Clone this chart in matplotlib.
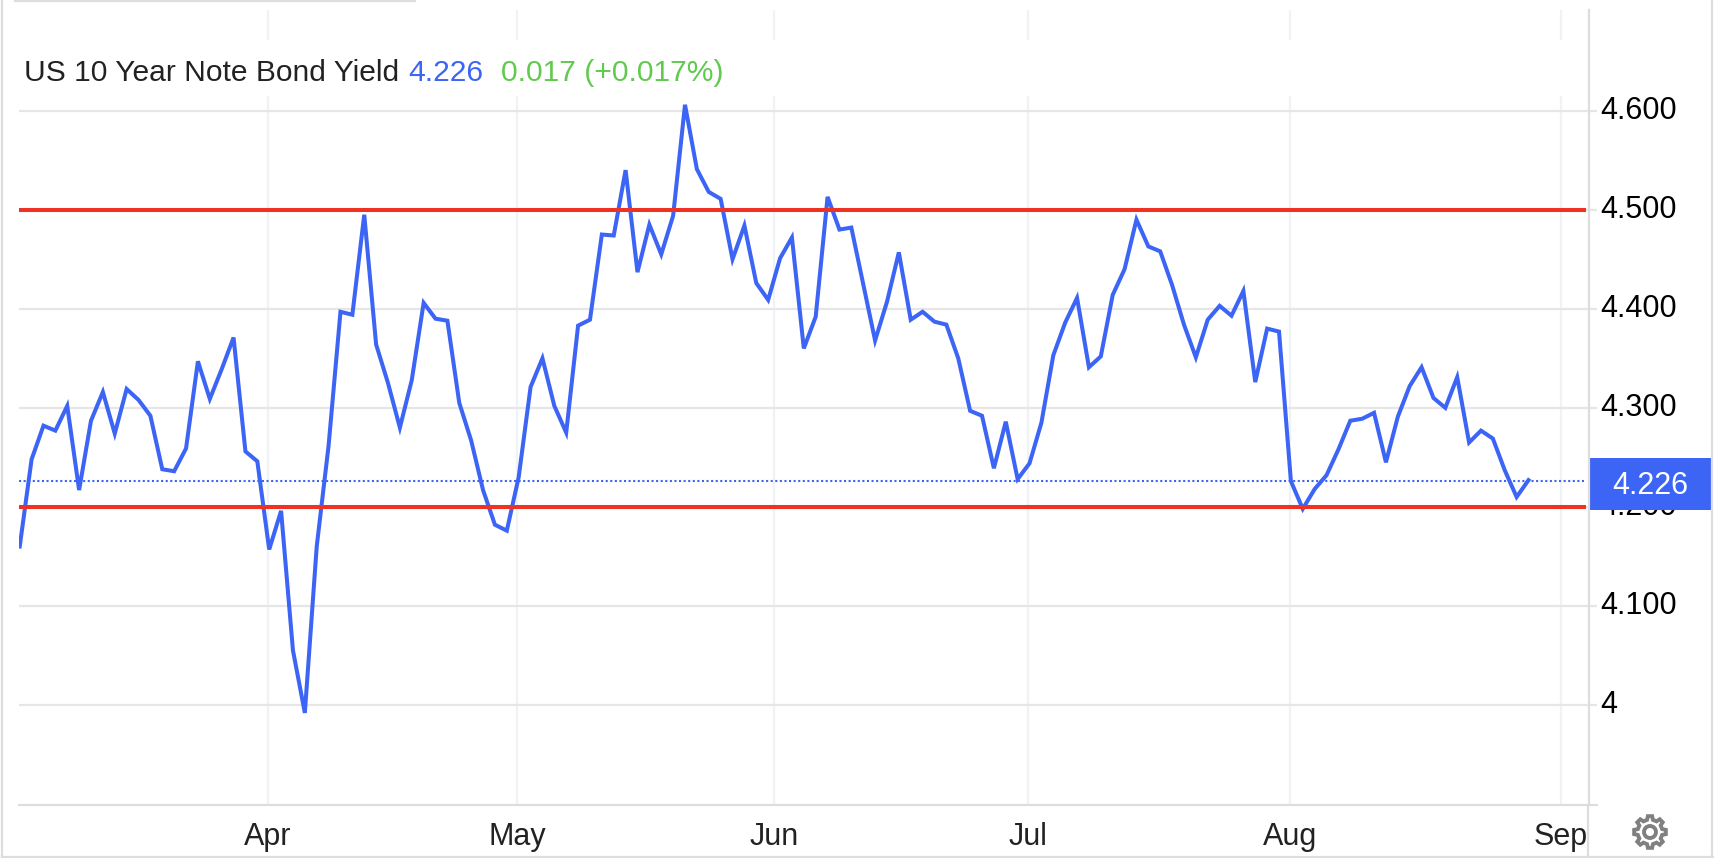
import numpy as np
import matplotlib
matplotlib.use("Agg")
import matplotlib.pyplot as plt
from matplotlib.patches import Rectangle, PathPatch
from matplotlib.path import Path
from matplotlib.lines import Line2D

plt.rcParams['font.family'] = ['Liberation Sans', 'DejaVu Sans']

yields = [4.160, 4.248, 4.282, 4.277, 4.302, 4.217, 4.287, 4.316, 4.274, 4.319,
          4.308, 4.292, 4.238, 4.236, 4.259, 4.347, 4.309, 4.339, 4.371, 4.256,
          4.246, 4.157, 4.196, 4.055, 3.992, 4.160, 4.262, 4.397, 4.394, 4.495,
          4.364, 4.325, 4.280, 4.328, 4.406, 4.390, 4.388, 4.305, 4.267, 4.217,
          4.182, 4.176, 4.230, 4.321, 4.350, 4.302, 4.275, 4.383, 4.389, 4.475,
          4.474, 4.540, 4.437, 4.485, 4.455, 4.494, 4.606, 4.541, 4.518, 4.511,
          4.450, 4.484, 4.426, 4.409, 4.451, 4.472, 4.360, 4.392, 4.513, 4.480,
          4.482, 4.425, 4.368, 4.407, 4.457, 4.389, 4.397, 4.387, 4.384, 4.350,
          4.297, 4.292, 4.239, 4.286, 4.228, 4.244, 4.285, 4.353, 4.386, 4.411,
          4.341, 4.352, 4.414, 4.440, 4.490, 4.463, 4.458, 4.424, 4.384, 4.351,
          4.389, 4.403, 4.393, 4.418, 4.326, 4.380, 4.377, 4.226, 4.198, 4.218,
          4.232, 4.258, 4.287, 4.289, 4.295, 4.245, 4.291, 4.322, 4.341, 4.310,
          4.300, 4.331, 4.265, 4.277, 4.269, 4.237, 4.210, 4.227]

month_labels = ["Apr", "May", "Jun", "Jul", "Aug", "Sep"]
month_pos = [20.9, 41.86, 63.5, 84.9, 106.9, 129.7]
y_ticks = [4.0, 4.1, 4.2, 4.3, 4.4, 4.5, 4.6]
y_labels = ["4", "4.100", "4.200", "4.300", "4.400", "4.500", "4.600"]
red_levels = [4.5, 4.2]
last_value = 4.226

BLUE = "#3c64f5"
RED = "#ee3224"
GREEN = "#5fca4c"
GRID = "#e6e6e6"
VGRID = "#eff3f7"
W, H = 1714, 858


def fx(px):
    return px / W


def fy(py):
    return 1 - py / H


fig = plt.figure(figsize=(W / 100, H / 100), dpi=100)
ax = fig.add_axes([fx(19), fy(805), fx(1586 - 19), fy(10) - fy(805)])
ax.set_xlim(-0.06, 131.84)
ax.set_ylim(3.899, 4.7017)
for s in ax.spines.values():
    s.set_visible(False)

ax.yaxis.tick_right()
ax.set_yticks(y_ticks)
ax.set_yticklabels(y_labels, fontsize=22, color="black", va="center")
ax.tick_params(axis="y", length=8, width=1.6, color=GRID, pad=2)
ax.set_xticks(month_pos)
ax.set_xticklabels(month_labels, fontsize=22, color="#222222")
ax.tick_params(axis="x", length=0, pad=12)

ax.grid(axis="y", color=GRID, lw=1.6)
ax.grid(axis="x", color=VGRID, lw=1.6)
ax.set_axisbelow(True)

# white strip behind the title
ax.add_patch(Rectangle((fx(19), fy(96)), fx(1586 - 19), fy(40) - fy(96), transform=fig.transFigure,
                       fc="white", ec="none", zorder=1.8))

x = np.arange(len(yields))
ax.axhline(last_value, color=BLUE, lw=1.5, ls=(0, (1, 1.2)), zorder=2)
ax.plot(x, yields, color=BLUE, lw=2.9, zorder=3, solid_joinstyle="miter")
for lev in red_levels:
    ax.axhline(lev, color=RED, lw=2.9, zorder=4)

# frame bits
frame = [((2, 2), (0, 858)), ((2, 1714), (856.5, 856.5)), ((15, 415), (1, 1)), ((1712, 1712), (0, 858)),
         ((1589, 1589), (10, 805)), ((1588, 1588), (805, 856)), ((19, 1597), (805, 805))]
for xs, ys in frame:
    fig.add_artist(Line2D([fx(xs[0]), fx(xs[1])], [fy(ys[0]), fy(ys[1])], color="#dddddd", lw=1.6,
                          transform=fig.transFigure))

# Sep label is cut by the separator in the original
sep_clip = Rectangle((0, 0), fx(1587), 1, transform=fig.transFigure)
ax.get_xticklabels()[-1].set_clip_path(sep_clip)
ax.get_xticklabels()[-1].set_clip_on(True)

# title, pieces placed one after the other
tx = 24
for txt, col, gap in [("US 10 Year Note Bond Yield", "#222222", 9), ("4.226", BLUE, 18), ("0.017 (+0.017%)", GREEN, 0)]:
    t = fig.text(fx(tx), fy(81), txt, color=col, fontsize=21.6, ha="left", va="baseline")
    bb = t.get_window_extent(fig.canvas.get_renderer())
    tx = bb.x1 + gap

# last value box
ax.add_patch(Rectangle((fx(1589), fy(510)), fx(1711 - 1589), fy(458) - fy(510), transform=fig.transFigure,
                       fc=BLUE, ec="none", zorder=5, clip_on=False))
fig.text(fx(1650), fy(486), "4.226", color="white", fontsize=22, ha="center", va="center", zorder=6)

# settings gear
n_teeth = 8
ang, rad = [], []
for k in range(n_teeth):
    a0 = 2 * np.pi * k / n_teeth
    d = 2 * np.pi / n_teeth
    ang += [a0 - 0.30 * d, a0 - 0.17 * d, a0 + 0.17 * d, a0 + 0.30 * d]
    rad += [12.5, 16, 16, 12.5]
ang = np.array(ang)
rad = np.array(rad)
cx, cy = 1650, 832
outer = np.c_[cx + rad * np.cos(ang), H - cy + rad * np.sin(ang)]
inner = Path.circle((cx, H - cy), 6)
verts = np.vstack([outer, outer[0]])
codes = [Path.MOVETO] + [Path.LINETO] * (len(outer) - 1) + [Path.CLOSEPOLY]
gear = Path(np.vstack([verts, inner.vertices]), codes + list(inner.codes))
fig.add_artist(PathPatch(gear, fc="none", ec="#808080", lw=2.8, transform=None))

fig.savefig("out.png", dpi=100)
